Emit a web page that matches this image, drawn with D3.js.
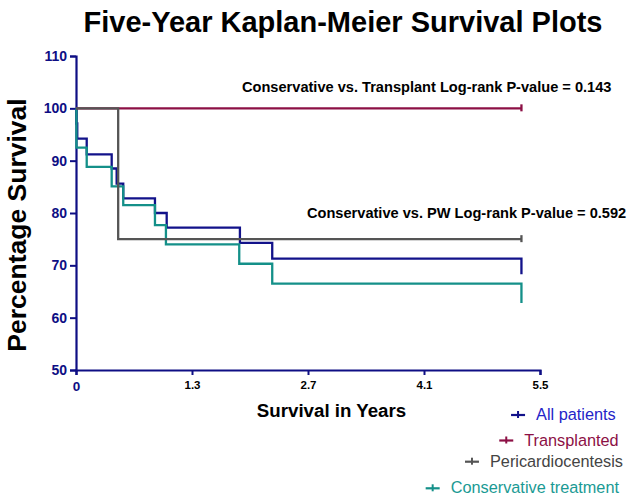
<!DOCTYPE html>
<html><head><meta charset="utf-8">
<script src="https://cdn.jsdelivr.net/npm/d3@7"></script>
<style>body{margin:0;background:#fff;} svg{display:block;font-family:"Liberation Sans",Arial,sans-serif;}</style>
</head><body>
<svg id="c" width="629" height="498"></svg>
<script>
const titleText = "Five-Year Kaplan-Meier Survival Plots";
const yTicks = [50, 60, 70, 80, 90, 100, 110];
const xTickValues = [0, 1.375, 2.75, 4.125, 5.5];
const xTickLabels = ["0", "1.3", "2.7", "4.1", "5.5"];

const allTimes = [0, 0.005, 0.015, 0.127, 0.423, 0.482, 0.56, 0.936, 1.075, 1.943, 2.326, 5.28];
const allSurv  = [100, 97.1, 94.2, 91.2, 88.5, 85.6, 82.8, 80.0, 77.2, 74.3, 71.3, 68.3];
const consTimes = [0, 0.005, 0.127, 0.423, 0.56, 0.936, 1.066, 1.935, 2.326, 5.28];
const consSurv  = [100, 92.5, 88.8, 85.1, 81.5, 77.7, 74.0, 70.3, 66.5, 62.8];
const transTimes = [0, 5.28];
const transSurv  = [100, 100];
const periTimes = [0, 0.50, 5.28];
const periSurv  = [100, 75, 75];

const seriesNames = ["All patients", "Transplanted", "Pericardiocentesis", "Conservative treatment"];
const annotations = ["Conservative vs. Transplant Log-rank P-value = 0.143", "Conservative vs. PW Log-rank P-value = 0.592"];

const C = {navy:"#12128a", red:"#8c1045", gray:"#555555", teal:"#149089", axis:"#0e0e84"};
const FF = "Liberation Sans, Arial, sans-serif";

const svg = d3.select("#c");
svg.append("rect").attr("width",629).attr("height",498).attr("fill","#fff");

const x = d3.scaleLinear().domain([0, 5.5]).range([76, 540]);
const y = d3.scaleLinear().domain([50, 110]).range([370, 56]);

// title
svg.append("text").attr("x", 343).attr("y", 32).attr("text-anchor","middle")
  .attr("font-size", 29).attr("font-weight","bold").attr("fill","#000").text(titleText);

// axes
const ya = svg.append("g").attr("transform","translate(76,0)")
  .call(d3.axisLeft(y).tickValues(yTicks).tickSize(6).tickPadding(3).tickFormat(d3.format("d")));
ya.select(".domain").attr("stroke", C.axis).attr("stroke-width", 2.2);
ya.selectAll(".tick line").attr("stroke", C.axis).attr("stroke-width", 2);
ya.selectAll(".tick text").attr("fill", C.axis).attr("font-size", 14).attr("font-weight","bold")
  .attr("font-family", FF);

const xa = svg.append("g").attr("transform","translate(0,370)")
  .call(d3.axisBottom(x).tickValues(xTickValues).tickSize(5).tickPadding(6)
    .tickFormat((d,i)=>xTickLabels[i]));
xa.select(".domain").attr("stroke", C.axis).attr("stroke-width", 2.2);
xa.selectAll(".tick line").attr("stroke", C.axis).attr("stroke-width", 2);
xa.selectAll(".tick text").attr("fill","#000").attr("font-size", 11.5).attr("font-weight","bold")
  .attr("font-family", FF);
xa.selectAll(".tick text").filter((d,i)=>i===0).attr("fill", C.axis).attr("font-size", 13.5);

// axis labels
svg.append("text").attr("transform","translate(25.5,225) rotate(-90)").attr("text-anchor","middle")
  .attr("font-size", 26.5).attr("font-weight","bold").attr("fill","#000").text("Percentage Survival");
svg.append("text").attr("x", 331.5).attr("y", 417).attr("text-anchor","middle")
  .attr("font-size", 18.7).attr("font-weight","bold").attr("fill","#000").text("Survival in Years");

// KM step curves
function stepPath(times, surv) {
  const pts = times.map((t,i)=>[t, surv[i]]);
  return d3.line().x(d=>x(d[0])).y(d=>y(d[1])).curve(d3.curveStepAfter)(pts);
}
const plot = svg.append("g").attr("fill","none").attr("stroke-width", 2.3);
const series = [
  {t: allTimes, s: allSurv, c: C.navy, endTick:false},
  {t: consTimes, s: consSurv, c: C.teal, endTick:false},
  {t: transTimes, s: transSurv, c: C.red, endTick:true},
  {t: periTimes, s: periSurv, c: C.gray, endTick:true}
];
series.forEach(S=>{
  plot.append("path").attr("d", stepPath(S.t, S.s)).attr("stroke", S.c);
  if (S.endTick) {
    const lt = S.t[S.t.length-1], ls = S.s[S.s.length-1];
    plot.append("line").attr("x1", x(lt)).attr("x2", x(lt))
      .attr("y1", y(ls)-4).attr("y2", y(ls)+3).attr("stroke", S.c);
  }
});

// annotations
svg.append("text").attr("x", 242).attr("y", 92).attr("text-anchor","start")
  .attr("font-size", 14.6).attr("font-weight","bold").attr("fill","#000").text(annotations[0]);
svg.append("text").attr("x", 307).attr("y", 218).attr("text-anchor","start")
  .attr("font-size", 14.6).attr("font-weight","bold").attr("fill","#000").text(annotations[1]);

// legend
const legColors = [C.navy, C.red, C.gray, C.teal];
const legText = ["#2424c8", "#8c1045", "#444444", "#1a9a94"];
const legY = [420, 445.5, 466.7, 493.3];
const legRight = [615.7, 618.7, 623, 619];
seriesNames.forEach((n,i)=>{
  const t = svg.append("text").attr("x", legRight[i]).attr("y", legY[i]).attr("text-anchor","end")
    .attr("font-size", 16.3).attr("fill", legText[i]).text(n);
  const w = t.node().getComputedTextLength();
  const sx = legRight[i] - w - 11;
  const sy = legY[i] - 5;
  svg.append("line").attr("x1", sx-14).attr("x2", sx).attr("y1", sy).attr("y2", sy)
    .attr("stroke", legColors[i]).attr("stroke-width", 2.2);
  svg.append("line").attr("x1", sx-7).attr("x2", sx-7).attr("y1", sy-4).attr("y2", sy+3)
    .attr("stroke", legColors[i]).attr("stroke-width", 2);
});
</script>
</body></html>
